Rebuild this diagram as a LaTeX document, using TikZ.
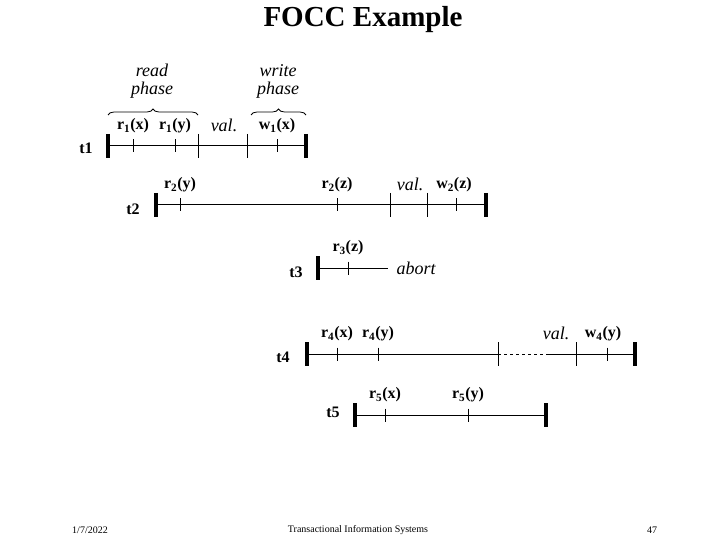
\documentclass[tikz,border=0pt]{standalone}
\usepackage{fontspec}
\setmainfont{Liberation Serif}[BoldFont={Liberation Serif Bold},ItalicFont={Liberation Serif Italic},BoldItalicFont={Liberation Serif Bold Italic}]
\usetikzlibrary{decorations.pathreplacing}
\begin{document}
\begin{tikzpicture}[x=1pt,y=-1pt,
  line/.style={line width=1pt},
  bar/.style={line width=3.5pt},
  op/.style={font=\rmfamily\fontsize{16}{18}\selectfont\bfseries},
  it/.style={font=\rmfamily\fontsize{18}{18}\selectfont\itshape},
  brc/.style={decorate,decoration={brace,amplitude=6pt},line width=0.8pt},
  foot/.style={font=\rmfamily\fontsize{10}{12}\selectfont}]
\useasboundingbox (0,0) rectangle (720,540);
\node [font=\rmfamily\fontsize{29}{32}\selectfont\bfseries] (title) at (363,20) {FOCC Example};
% t1
\coordinate (t1a) at (108,146); \coordinate (t1b) at (306,146);
\draw [line] (t1a) -- (t1b);
\foreach \c in {t1a,t1b} \draw [bar] ([yshift=12]\c) -- ([yshift=-12]\c);
\foreach \x in {133,175,277} \draw [line] (\x,139.5) -- (\x,152.5);
\foreach \x in {198,247} \draw [line] (\x,134) -- (\x,158);
\node [op] (t1) at (86,148) {t1};
\node [op] (r1x) at (133,126) {r\textsubscript{1}(x)};
\node [op] (r1y) at (175,126) {r\textsubscript{1}(y)};
\node [it] (v1) at (224,125) {val.};
\node [op] (w1x) at (277,126) {w\textsubscript{1}(x)};
\draw [brc] (108,115) -- (198,115);
\draw [brc] (251,115) -- (306,115);
\node [it,align=center] (rp) at (152,81) {read\\phase};
\node [it,align=center] (wp) at (278,81) {write\\phase};
% t2
\coordinate (t2a) at (156,205); \coordinate (t2b) at (486,205);
\draw [line] (t2a) -- (t2b);
\foreach \c in {t2a,t2b} \draw [bar] ([yshift=12]\c) -- ([yshift=-12]\c);
\foreach \x in {180,337,456} \draw [line] (\x,198.5) -- (\x,211.5);
\foreach \x in {390,427} \draw [line] (\x,193) -- (\x,217);
\node [op] (t2) at (133,209) {t2};
\node [op] (r2y) at (180,185) {r\textsubscript{2}(y)};
\node [op] (r2z) at (337,185) {r\textsubscript{2}(z)};
\node [it] (v2) at (410,184) {val.};
\node [op] (w2z) at (454,185) {w\textsubscript{2}(z)};
% t3
\coordinate (t3a) at (318,268); \coordinate (t3b) at (388,268);
\draw [line] (t3a) -- (t3b);
\draw [bar] ([yshift=12]t3a) -- ([yshift=-12]t3a);
\draw [line] (348,261.5) -- (348,274.5);
\node [op] (t3) at (296,272) {t3};
\node [op] (r3z) at (348,248) {r\textsubscript{3}(z)};
\node [it,anchor=west] (ab3) at (393,268) {abort};
% t4
\coordinate (t4a) at (307,354); \coordinate (t4c) at (498,354);
\coordinate (t4d) at (547,354); \coordinate (t4b) at (635,354);
\draw [line] (t4a) -- (t4c);
\draw [line,dashed] (t4c) -- (t4d);
\draw [line] (t4d) -- (t4b);
\foreach \c in {t4a,t4b} \draw [bar] ([yshift=12]\c) -- ([yshift=-12]\c);
\foreach \x in {337,378,607} \draw [line] (\x,347.5) -- (\x,360.5);
\foreach \x in {498,576} \draw [line] (\x,342) -- (\x,366);
\node [op] (t4) at (283,357) {t4};
\node [op] (r4x) at (337,334) {r\textsubscript{4}(x)};
\node [op] (r4y) at (378,334) {r\textsubscript{4}(y)};
\node [it] (v4) at (556,333) {val.};
\node [op] (w4y) at (603,334) {w\textsubscript{4}(y)};
% t5
\coordinate (t5a) at (355,415); \coordinate (t5b) at (546,415);
\draw [line] (t5a) -- (t5b);
\foreach \c in {t5a,t5b} \draw [bar] ([yshift=12]\c) -- ([yshift=-12]\c);
\foreach \x in {385,468} \draw [line] (\x,408.5) -- (\x,421.5);
\node [op] (t5) at (333,412) {t5};
\node [op] (r5x) at (385,395) {r\textsubscript{5}(x)};
\node [op] (r5y) at (468,395) {r\textsubscript{5}(y)};
% footer
\node [foot] (date) at (90,530) {1/7/2022};
\node [foot] (course) at (358,530) {Transactional Information Systems};
\node [foot] (page) at (652,530) {47};
\end{tikzpicture}
\end{document}
